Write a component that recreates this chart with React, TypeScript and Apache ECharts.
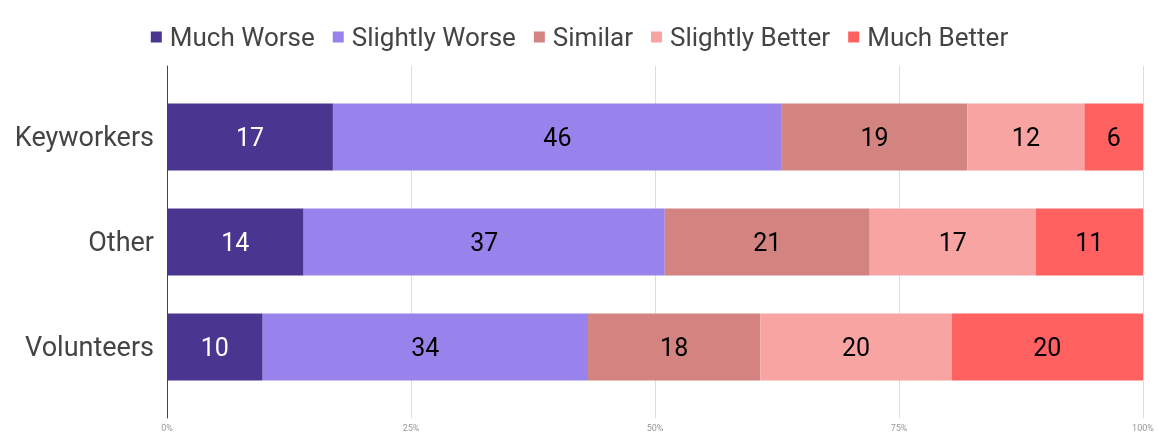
import React, { useEffect, useRef } from "react";
import * as echarts from "echarts";

const categories = ["Keyworkers", "Other", "Volunteers"];
const seriesNames = ["Much Worse", "Slightly Worse", "Similar", "Slightly Better", "Much Better"];
const muchWorse = [17, 14, 10];
const slightlyWorse = [46, 37, 34];
const similar = [19, 21, 18];
const slightlyBetter = [12, 17, 20];
const muchBetter = [6, 11, 20];
const tickLabels = ["0%", "25%", "50%", "75%", "100%"];
const colors = ["#4a3590", "#9883ec", "#d38480", "#f7a4a3", "#ff6060"];
const labelColors = ["#ffffff", "#000000", "#000000", "#000000", "#000000"];

export default function App() {
  const ref = useRef<HTMLDivElement>(null);
  useEffect(() => {
    if (!ref.current) return;
    const chart = echarts.init(ref.current, undefined, { renderer: "svg" });
    const raw = [muchWorse, slightlyWorse, similar, slightlyBetter, muchBetter];
    const totals = categories.map((_, i) => raw.reduce((s, a) => s + a[i], 0));
    const font = "Roboto, 'Noto Sans', sans-serif";
    chart.setOption({
      animation: false,
      legend: {
        top: 19,
        left: "center",
        itemWidth: 11,
        itemHeight: 11,
        itemGap: 18,
        icon: "rect",
        textStyle: { fontSize: 26, color: "#444", fontFamily: font, padding: [0, 0, 0, 3] },
        data: seriesNames,
      },
      grid: [
        { left: 167, right: 16, top: 66, bottom: 18 },
        { left: 167, right: 16, top: 84.5, bottom: 36.5 },
      ],
      xAxis: [
        {
          gridIndex: 0,
          type: "value",
          min: 0,
          max: 100,
          interval: 25,
          axisLine: { show: false },
          axisTick: { show: false },
          splitLine: { show: true, lineStyle: { color: "#dddddd", width: 1 } },
          axisLabel: {
            fontSize: 9,
            color: "#999",
            fontFamily: font,
            margin: 5,
            formatter: (v: number) => tickLabels[Math.round(v / 25)],
          },
        },
        {
          gridIndex: 1,
          type: "value",
          min: 0,
          max: 100,
          show: false,
        },
      ],
      yAxis: [
        {
          gridIndex: 0,
          type: "category",
          data: [""],
          axisLine: { show: true, lineStyle: { color: "#444", width: 1 } },
          axisTick: { show: false },
          axisLabel: { show: false },
        },
        {
          gridIndex: 1,
          type: "category",
          inverse: true,
          data: categories,
          axisLine: { show: false },
          axisTick: { show: false },
          axisLabel: { fontSize: 27, color: "#444", fontFamily: font, margin: 13 },
        },
      ],
      series: seriesNames.map((name, si) => ({
        name,
        type: "bar",
        stack: "total",
        xAxisIndex: 1,
        yAxisIndex: 1,
        barWidth: 67,
        itemStyle: { color: colors[si] },
        label: {
          show: true,
          position: "inside",
          fontSize: 25,
          color: labelColors[si],
          fontFamily: font,
          formatter: (p: any) => String(raw[si][p.dataIndex]),
        },
        data: raw[si].map((v, i) => (v / totals[i]) * 100),
      })),
    });
    return () => chart.dispose();
  }, []);
  return <div ref={ref} style={{ position: "fixed", left: 0, top: 0, width: 1159, height: 436 }} />;
}
